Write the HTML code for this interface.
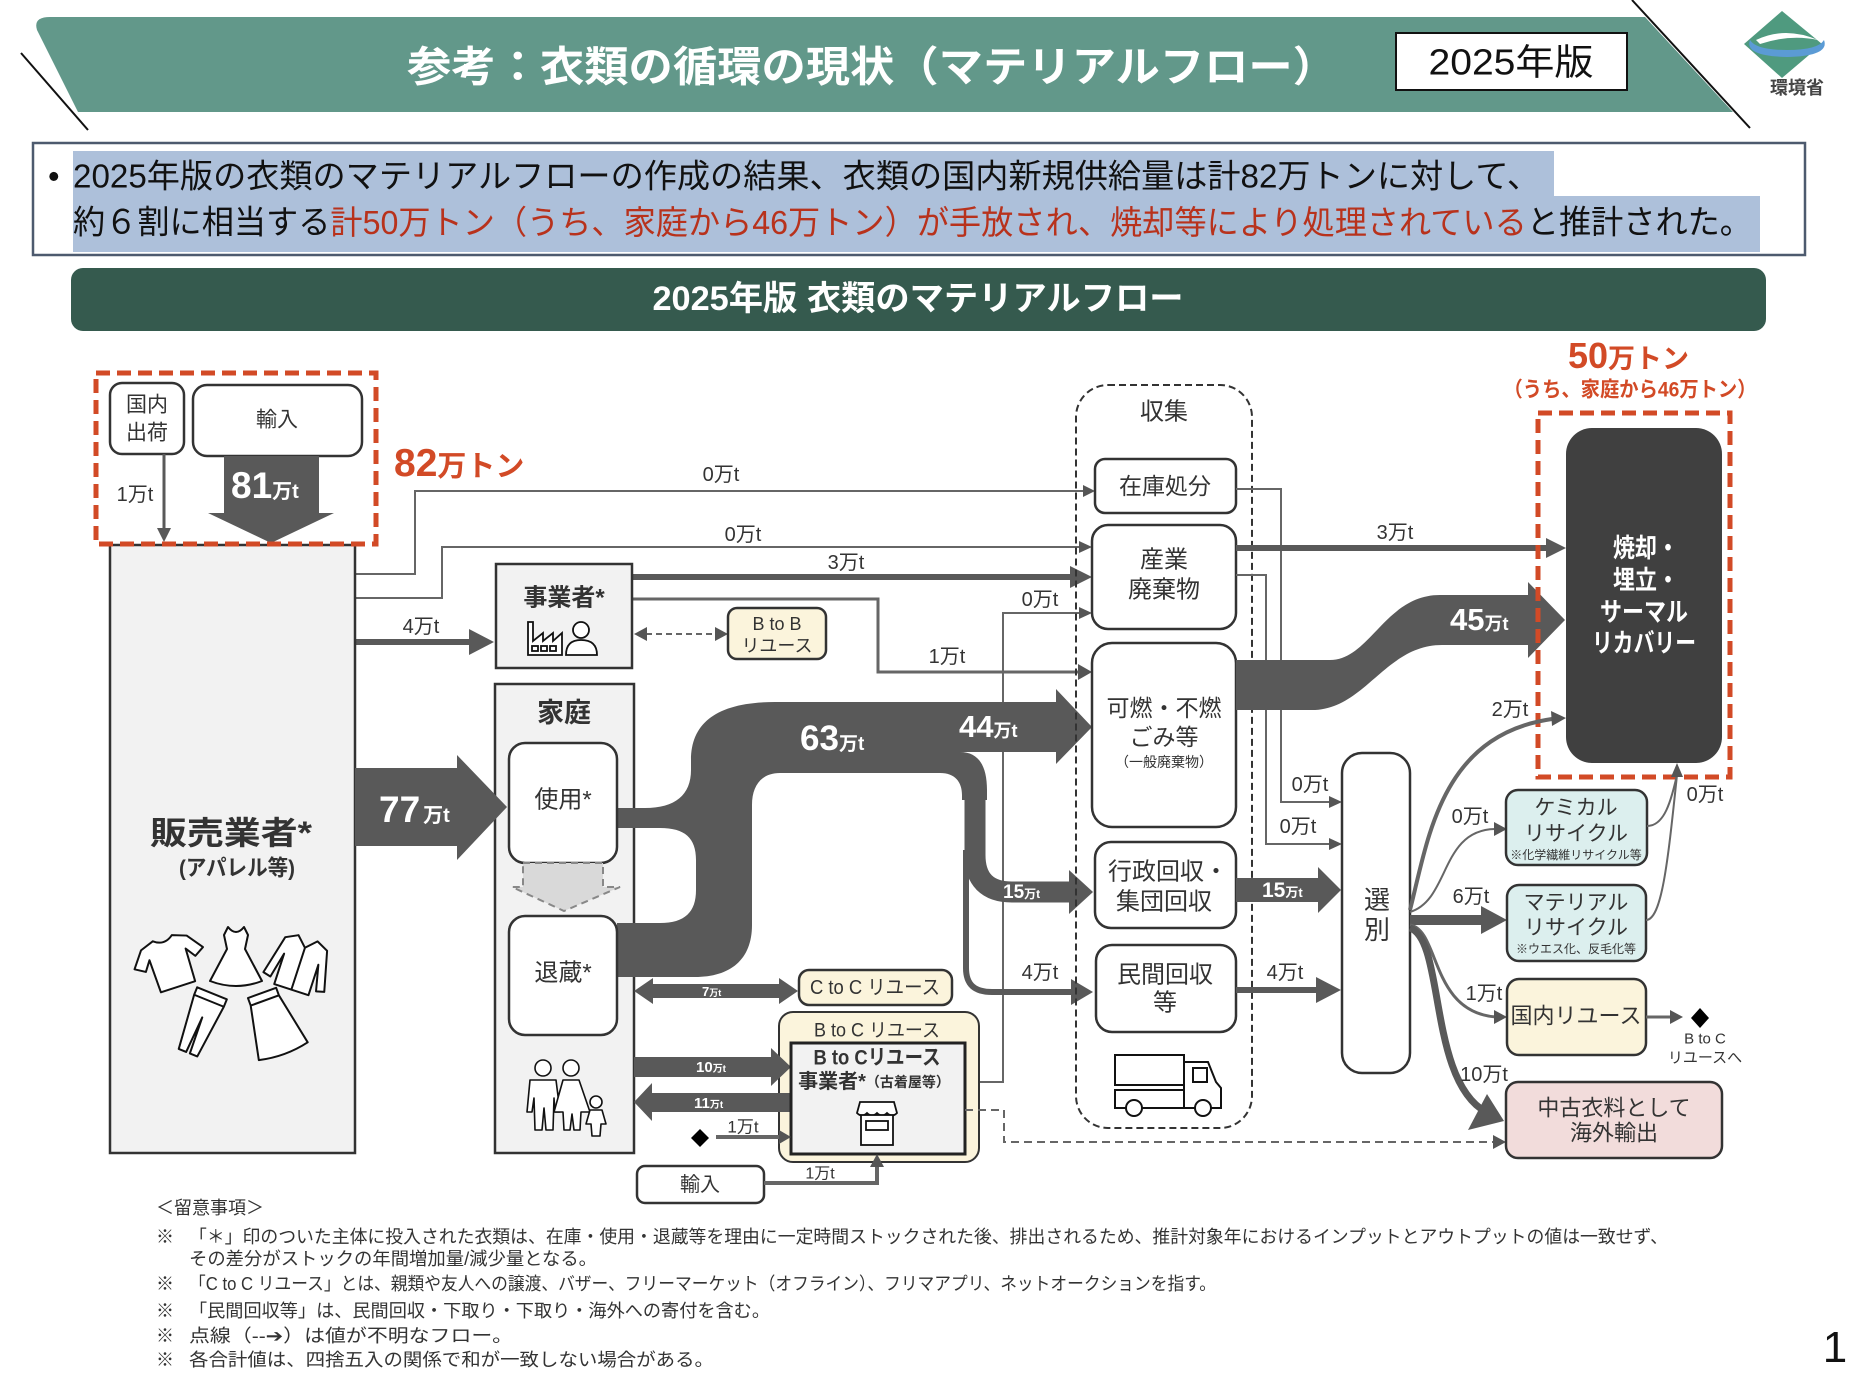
<!DOCTYPE html>
<html><head><meta charset="utf-8">
<style>
html,body{margin:0;padding:0;background:#fff;}
svg{display:block;}
text{font-family:"Liberation Sans","Noto Sans CJK JP",sans-serif;}
.l{font-size:20px;fill:#333;text-anchor:middle;dominant-baseline:central;}
.t{fill:#333;text-anchor:middle;dominant-baseline:central;}
.b{font-weight:bold;}
.box{fill:#fff;stroke:#333;stroke-width:2.5;}
.gbox{fill:#f2f2f2;stroke:#333;stroke-width:2.5;}
.c{fill:none;stroke:#666;stroke-width:2;}
.h{fill:#555;}
.n{font-size:18px;fill:#333;dominant-baseline:central;}
</style></head><body>
<svg xmlns="http://www.w3.org/2000/svg" width="1850" height="1378" viewBox="0 0 1850 1378">

<!-- Title band -->
<path d="M50 17 L1645 17 L1733 112 L78 112 L37 30 Q33 17 50 17 Z" fill="#62988a"/>
<line x1="21" y1="53" x2="88" y2="130" stroke="#111" stroke-width="2"/>
<line x1="1632" y1="0" x2="1750" y2="128" stroke="#111" stroke-width="2"/>
<text x="407" y="67" font-size="42" font-weight="bold" fill="#fff" dominant-baseline="central" textLength="930" lengthAdjust="spacingAndGlyphs">参考：衣類の循環の現状（マテリアルフロー）</text>
<rect x="1396" y="33" width="231" height="57" fill="#fff" stroke="#111" stroke-width="2"/>
<text x="1511" y="62" font-size="36" fill="#111" text-anchor="middle" dominant-baseline="central" textLength="165" lengthAdjust="spacingAndGlyphs">2025年版</text>

<!-- Logo -->
<polygon points="1782,11 1822,44 1782,78 1744,44" fill="#4f9a7f"/>
<path d="M1756 40 Q1785 26 1818 40 Q1790 34 1760 44 Z" fill="#fff"/>
<path d="M1750 40 Q1744 56 1787 57 Q1830 56 1824 40 Q1818 50 1787 50 Q1756 50 1750 40 Z" fill="#5b9bd5"/>
<text x="1797" y="88" font-size="18" font-weight="bold" fill="#444" text-anchor="middle" dominant-baseline="central">環境省</text>

<!-- Summary box -->
<rect x="33" y="143" width="1772" height="112" fill="#fff" stroke="#4d5a6e" stroke-width="2.5"/>
<rect x="73" y="151" width="1481" height="45" fill="#adc0da"/>
<rect x="73" y="196" width="1687" height="56" fill="#adc0da"/>
<text x="48" y="176" font-size="33" fill="#111" dominant-baseline="central">•</text>
<text x="73" y="176" font-size="33" fill="#111" dominant-baseline="central" textLength="1467" lengthAdjust="spacingAndGlyphs">2025年版の衣類のマテリアルフローの作成の結果、衣類の国内新規供給量は計82万トンに対して、</text>
<text x="73" y="222" font-size="33" fill="#111" dominant-baseline="central" textLength="1679" lengthAdjust="spacingAndGlyphs">約６割に相当する<tspan fill="#b8321c">計50万トン（うち、家庭から46万トン）が手放され、焼却等により処理されている</tspan>と推計された。</text>

<!-- Section header -->
<rect x="71" y="268" width="1695" height="63" rx="12" fill="#355a4e"/>
<text x="918" y="299" font-size="34" font-weight="bold" fill="#fff" text-anchor="middle" dominant-baseline="central" textLength="531" lengthAdjust="spacingAndGlyphs">2025年版 衣類のマテリアルフロー</text>

<!-- thin connectors from 販売業者 -->
<polyline points="355,574 415,574 415,491 1084,491" class="c"/>
<polygon points="1083,485 1095,491 1083,497" class="h"/>
<text class="l" x="721" y="475">0万t</text>
<polyline points="355,598 442,598 442,547 1080,547" class="c"/>
<polygon points="1079,541 1092,547 1079,553" class="h"/>
<text class="l" x="743" y="535">0万t</text>

<!-- 事業者 outputs -->
<line x1="632" y1="577" x2="1072" y2="577" stroke="#595959" stroke-width="6"/>
<polygon points="1070,566 1092,577 1070,588" fill="#595959"/>
<text class="l" x="846" y="563">3万t</text>
<polyline points="632,599 878,599 878,672 1080,672" fill="none" stroke="#666" stroke-width="3"/>
<polygon points="1078,664 1092,672 1078,680" class="h"/>
<text class="l" x="947" y="657">1万t</text>
<polyline points="965,1082 1003,1082 1003,613 1080,613" class="c"/>
<polygon points="1079,607 1092,613 1079,619" class="h"/>
<text class="l" x="1040" y="600">0万t</text>

<!-- B to B dashed double arrow -->
<line x1="646" y1="634" x2="714" y2="634" stroke="#666" stroke-width="2" stroke-dasharray="6 4"/>
<polygon points="634,634 647,627 647,641" class="h"/>
<polygon points="728,634 715,627 715,641" class="h"/>
<rect x="728" y="608" width="98" height="51" rx="9" fill="#fbf4dc" stroke="#333" stroke-width="2.5"/>
<text class="t" x="777" y="624" font-size="18">B to B</text>
<text class="t" x="777" y="646" font-size="18">リユース</text>

<!-- 4万t 販売→事業者 -->
<line x1="355" y1="642" x2="472" y2="642" stroke="#595959" stroke-width="6"/>
<polygon points="469,629 494,642 469,655" fill="#595959"/>
<text class="l" x="421" y="627">4万t</text>

<!-- 販売業者 box -->
<rect x="110" y="545" width="245" height="608" class="gbox"/>
<text class="t b" x="231" y="833" font-size="32" fill="#333" textLength="162" lengthAdjust="spacingAndGlyphs">販売業者*</text>
<text class="t b" x="237" y="868" font-size="22" textLength="116" lengthAdjust="spacingAndGlyphs">(アパレル等)</text>
<g fill="#fff" stroke="#111" stroke-width="2" stroke-linejoin="round">
  <path transform="translate(170,962) rotate(-18)" d="M-10,-25 L-24,-20 L-36,-4 L-26,2 L-19,-8 L-18,26 L18,26 L19,-8 L26,2 L36,-4 L24,-20 L10,-25 Q0,-17 -10,-25 Z"/>
  <path transform="translate(236,957)" d="M-8,-30 L-12,-22 L-9,-8 L-26,24 Q0,34 26,24 L9,-8 L12,-22 L8,-30 Q0,-20 -8,-30 Z"/>
  <path transform="translate(300,963) rotate(18)" d="M-10,-26 L-22,-20 L-32,20 L-24,22 L-18,-4 L-18,28 L18,28 L18,-4 L24,22 L32,20 L22,-20 L10,-26 L0,-16 Z M0,-16 L0,28"/>
  <path transform="translate(200,1023) rotate(22)" d="M-16,-32 L16,-32 L16,-24 L10,32 L2,32 L0,-6 L-2,32 L-10,32 L-16,-24 Z M-16,-24 L16,-24"/>
  <path transform="translate(273,1023) rotate(-20)" d="M-15,-32 L15,-32 L15,-24 L26,30 Q0,36 -26,30 L-15,-24 Z M-15,-24 L15,-24"/>
</g>

<!-- 82 box -->
<rect x="110" y="383" width="74" height="71" rx="12" class="box"/>
<text class="t" x="147" y="405" font-size="21">国内</text>
<text class="t" x="147" y="433" font-size="21">出荷</text>
<rect x="193" y="385" width="169" height="71" rx="14" class="box"/>
<text class="t" x="277" y="420" font-size="21">輸入</text>
<line x1="164" y1="454" x2="164" y2="530" stroke="#595959" stroke-width="3"/>
<polygon points="157,528 164,542 171,528" fill="#595959"/>
<text class="l" x="135" y="495">1万t</text>
<polygon points="224,456 319,456 319,513 334,513 271,543 208,513 224,513" fill="#595959"/>
<text x="231" y="498" font-size="37" font-weight="bold" fill="#fff">81<tspan font-size="20">万t</tspan></text>
<rect x="96" y="373" width="280" height="171" fill="none" stroke="#d24a26" stroke-width="5" stroke-dasharray="14 7"/>
<text x="394" y="476" font-size="39" font-weight="bold" fill="#d24a26">82<tspan font-size="29">万トン</tspan></text>

<!-- 事業者 box -->
<rect x="496" y="564" width="136" height="104" class="gbox"/>
<text class="t b" x="564" y="598" font-size="24">事業者*</text>
<g fill="#fff" stroke="#111" stroke-width="1.8">
  <path d="M528 655 L528 622 L533 622 L533 641 L543 633 L543 641 L553 633 L553 641 L562 633 L562 655 Z"/>
  <rect x="532" y="646" width="6" height="5"/><rect x="541" y="646" width="6" height="5"/><rect x="550" y="646" width="6" height="5"/>
  <circle cx="581" cy="630" r="8"/>
  <path d="M566 655 Q566 640 581 640 Q597 640 597 655 Z"/>
</g>

<!-- 家庭 box -->
<rect x="495" y="684" width="139" height="469" class="gbox"/>
<text class="t b" x="564" y="713" font-size="27">家庭</text>

<!-- 77 arrow -->
<polygon points="355,768 457,768 457,755 507,807 457,860 457,846 355,846" fill="#595959"/>
<text x="379" y="822" font-size="37" font-weight="bold" fill="#fff">77<tspan font-size="20" dx="3">万t</tspan></text>

<!-- big band 63/44 -->
<path d="M617 808 L645 808 C675 808 691 795 691 770 L691 760 C691 722 718 702 775 702 L1056 702 L1056 689 L1092 727 L1056 764 L1056 752 L960 752 C978 752 987 765 987 790 L987 800 L962 800 L962 795 C962 782 955 773 940 773 L780 773 C762 773 752 785 752 805 L752 925 C752 960 730 977 695 977 L617 977 L617 923 L660 923 C685 923 696 912 696 890 L696 860 C696 838 685 828 660 828 L617 828 Z" fill="#595959"/>
<path d="M975 796 L975 855 C975 880 988 892 1012 892 L1070 892" fill="none" stroke="#595959" stroke-width="21"/>
<polygon points="1069,870 1093,892 1069,914" fill="#595959"/>
<path d="M966 850 L966 968 C966 985 975 992 992 992 L1073 992" fill="none" stroke="#595959" stroke-width="6"/>
<polygon points="1071,979 1093,992 1071,1005" fill="#595959"/>
<text x="800" y="750" font-size="35" font-weight="bold" fill="#fff">63<tspan font-size="19">万t</tspan></text>
<text x="959" y="737" font-size="31" font-weight="bold" fill="#fff">44<tspan font-size="18">万t</tspan></text>
<text x="1003" y="898" font-size="19" font-weight="bold" fill="#fff">15<tspan font-size="12">万t</tspan></text>
<text class="l" x="1040" y="973">4万t</text>

<!-- 使用 / 退蔵 -->
<rect x="509" y="743" width="108" height="120" rx="16" class="box"/>
<text class="t" x="563" y="800" font-size="24">使用*</text>
<rect x="509" y="916" width="108" height="119" rx="16" class="box"/>
<text class="t" x="563" y="973" font-size="24">退蔵*</text>
<polygon points="523,863 603,863 603,887 620,887 564,911 512,887 523,887" fill="#d9d9d9" stroke="#888" stroke-width="2" stroke-dasharray="7 5"/>
<g fill="#fff" stroke="#111" stroke-width="1.6" stroke-linejoin="round">
  <circle cx="543" cy="1068" r="8"/>
  <path d="M530 1080 L556 1080 L560 1112 L555 1112 L554 1098 L553 1130 L546 1130 L544 1108 L542 1130 L535 1130 L534 1098 L532 1112 L527 1112 Z"/>
  <circle cx="571" cy="1068" r="8"/>
  <path d="M563 1080 L579 1080 L590 1112 L581 1112 L580 1130 L574 1130 L572 1114 L570 1130 L564 1130 L563 1112 L554 1112 Z"/>
  <circle cx="596" cy="1102" r="6"/>
  <path d="M590 1110 L602 1110 L606 1124 L601 1124 L600 1136 L592 1136 L591 1124 L586 1124 Z"/>
</g>

<!-- 7万t C to C -->
<polygon points="634,991 653,978 653,984 779,984 779,978 798,991 779,1004 779,998 653,998 653,1004" fill="#595959"/>
<text x="702" y="996" font-size="13" font-weight="bold" fill="#fff">7<tspan font-size="9">万t</tspan></text>
<rect x="799" y="970" width="153" height="35" rx="10" fill="#fbf4dc" stroke="#333" stroke-width="2.5"/>
<text class="t" x="875" y="988" font-size="20" textLength="130" lengthAdjust="spacingAndGlyphs">C to C リユース</text>

<!-- B to C outer -->
<rect x="779" y="1012" width="200" height="150" rx="14" fill="#fbf4dc" stroke="#333" stroke-width="2"/>
<text class="t" x="877" y="1031" font-size="19" textLength="126" lengthAdjust="spacingAndGlyphs">B to C リユース</text>
<polygon points="634,1057 771,1057 771,1048 791,1067 771,1086 771,1077 634,1077" fill="#595959"/>
<text x="696" y="1072" font-size="15" font-weight="bold" fill="#fff">10<tspan font-size="10">万t</tspan></text>
<polygon points="791,1093 652,1093 652,1083 634,1102 652,1121 652,1112 791,1112" fill="#595959"/>
<text x="694" y="1108" font-size="15" font-weight="bold" fill="#fff">11<tspan font-size="10">万t</tspan></text>
<rect x="791" y="1043" width="174" height="111" fill="#f2f2f2" stroke="#222" stroke-width="3"/>
<text class="t b" x="877" y="1058" font-size="21" textLength="127" lengthAdjust="spacingAndGlyphs">B to Cリユース</text>
<text class="t b" x="874" y="1082" font-size="20">事業者*<tspan font-size="14">（古着屋等）</tspan></text>
<g fill="#fff" stroke="#111" stroke-width="1.8">
  <path d="M857 1113 L860 1102 L894 1102 L897 1113 Q892 1118 887 1113 Q882 1118 877 1113 Q872 1118 867 1113 Q862 1118 857 1113 Z"/>
  <rect x="861" y="1115" width="32" height="30"/>
  <rect x="866" y="1121" width="22" height="9"/>
</g>
<polygon points="700,1129 709,1138 700,1147 691,1138" fill="#000"/>
<line x1="716" y1="1137" x2="781" y2="1137" stroke="#666" stroke-width="4"/>
<polygon points="779,1130 791,1137 779,1144" class="h"/>
<text class="t" x="743" y="1127" font-size="17">1万t</text>
<rect x="637" y="1166" width="127" height="37" rx="8" class="box"/>
<text class="t" x="700" y="1185" font-size="20">輸入</text>
<polyline points="764,1183 877,1183 877,1166" fill="none" stroke="#666" stroke-width="4"/>
<polygon points="870,1167 877,1154 884,1167" class="h"/>
<text class="t" x="820" y="1174" font-size="16">1万t</text>
<polyline points="965,1110 1004,1110 1004,1142 1494,1142" fill="none" stroke="#666" stroke-width="2" stroke-dasharray="8 5"/>
<polygon points="1493,1135 1506,1142 1493,1149" class="h"/>

<!-- 収集 -->
<rect x="1076" y="385" width="176" height="743" rx="32" fill="none" stroke="#333" stroke-width="2" stroke-dasharray="7 4"/>
<text class="t" x="1164" y="412" font-size="24">収集</text>
<rect x="1095" y="459" width="141" height="54" rx="10" class="box"/>
<text class="t" x="1165" y="486" font-size="23">在庫処分</text>
<rect x="1092" y="525" width="144" height="104" rx="16" class="box"/>
<text class="t" x="1164" y="560" font-size="24">産業</text>
<text class="t" x="1164" y="590" font-size="24">廃棄物</text>
<rect x="1092" y="643" width="144" height="184" rx="20" class="box"/>
<text class="t" x="1164" y="708" font-size="23">可燃・不燃</text>
<text class="t" x="1164" y="737" font-size="23">ごみ等</text>
<text class="t" x="1164" y="762" font-size="14">（一般廃棄物）</text>
<rect x="1095" y="842" width="141" height="86" rx="16" class="box"/>
<text class="t" x="1168" y="872" font-size="24">行政回収・</text>
<text class="t" x="1164" y="902" font-size="24">集団回収</text>
<rect x="1096" y="945" width="140" height="87" rx="16" class="box"/>
<text class="t" x="1165" y="975" font-size="24">民間回収</text>
<text class="t" x="1165" y="1003" font-size="24">等</text>
<g fill="#fff" stroke="#111" stroke-width="2">
  <rect x="1115" y="1055" width="69" height="30"/>
  <rect x="1115" y="1090" width="69" height="18"/>
  <path d="M1184 1062 L1208 1062 L1216 1082 L1221 1088 L1221 1108 L1184 1108 Z"/>
  <rect x="1193" y="1068" width="14" height="14"/>
  <circle cx="1134" cy="1108" r="8"/>
  <circle cx="1203" cy="1108" r="8"/>
</g>

<!-- to 選別 -->
<polyline points="1236,489 1281,489 1281,802 1330,802" class="c"/>
<polygon points="1329,796 1342,802 1329,808" class="h"/>
<text class="l" x="1310" y="785">0万t</text>
<polyline points="1236,575 1266,575 1266,844 1330,844" class="c"/>
<polygon points="1329,838 1342,844 1329,850" class="h"/>
<text class="l" x="1298" y="827">0万t</text>
<polygon points="1236,878 1318,878 1318,867 1341,890 1318,913 1318,902 1236,902" fill="#595959"/>
<text x="1262" y="897" font-size="21" font-weight="bold" fill="#fff">15<tspan font-size="13">万t</tspan></text>
<line x1="1236" y1="990" x2="1318" y2="990" stroke="#595959" stroke-width="6"/>
<polygon points="1316,977 1341,990 1316,1003" fill="#595959"/>
<text class="l" x="1285" y="973">4万t</text>
<rect x="1342" y="753" width="68" height="320" rx="20" class="box"/>
<text class="t" x="1377" y="900" font-size="26">選</text>
<text class="t" x="1377" y="930" font-size="26">別</text>

<!-- to 焼却 -->
<line x1="1236" y1="548" x2="1548" y2="548" stroke="#595959" stroke-width="6"/>
<polygon points="1546,538 1566,548 1546,558" fill="#595959"/>
<text class="l" x="1395" y="533">3万t</text>
<path d="M1236 660 L1330 660 C1370 660 1385 595 1440 595 L1528 595 L1528 582 L1565 620 L1528 658 L1528 645 L1442 645 C1385 645 1365 710 1312 710 L1236 710 Z" fill="#595959"/>
<text x="1450" y="630" font-size="31" font-weight="bold" fill="#fff">45<tspan font-size="18">万t</tspan></text>
<rect x="1566" y="428" width="156" height="335" rx="26" fill="#404040"/>
<g font-size="26" font-weight="bold" fill="#fff" text-anchor="middle" dominant-baseline="central">
  <text x="1646" y="548" textLength="66" lengthAdjust="spacingAndGlyphs">焼却・</text>
  <text x="1646" y="580" textLength="66" lengthAdjust="spacingAndGlyphs">埋立・</text>
  <text x="1644" y="612" textLength="88" lengthAdjust="spacingAndGlyphs">サーマル</text>
  <text x="1644" y="643" textLength="104" lengthAdjust="spacingAndGlyphs">リカバリー</text>
</g>
<rect x="1538" y="413" width="192" height="364" fill="none" stroke="#d24a26" stroke-width="5" stroke-dasharray="14 7"/>
<text x="1568" y="368" font-size="36" font-weight="bold" fill="#d24a26">50<tspan font-size="27">万トン</tspan></text>
<text x="1630" y="390" font-size="21" font-weight="bold" fill="#d24a26" text-anchor="middle" dominant-baseline="central" textLength="253" lengthAdjust="spacingAndGlyphs">（うち、家庭から46万トン）</text>

<!-- 選別 outputs -->
<path d="M1410 910 C1428 840 1440 735 1552 719" fill="none" stroke="#666" stroke-width="4"/>
<polygon points="1551,711 1566,718 1552,726" class="h"/>
<text class="l" x="1510" y="710">2万t</text>
<path d="M1410 912 C1450 900 1440 830 1495 829" fill="none" stroke="#666" stroke-width="2"/>
<polygon points="1494,822 1507,829 1494,836" class="h"/>
<text class="l" x="1470" y="817">0万t</text>
<line x1="1410" y1="920" x2="1483" y2="920" stroke="#595959" stroke-width="10"/>
<polygon points="1481,906 1507,920 1481,934" fill="#595959"/>
<text class="l" x="1471" y="897">6万t</text>
<path d="M1410 925 C1440 930 1430 1012 1496 1017" fill="none" stroke="#666" stroke-width="3"/>
<polygon points="1494,1010 1507,1017 1494,1024" class="h"/>
<text class="l" x="1484" y="994">1万t</text>
<path d="M1410 928 C1445 940 1428 1080 1486 1112" fill="none" stroke="#595959" stroke-width="7"/>
<polygon points="1504,1121 1468,1130 1487,1094" fill="#595959"/>
<text class="l" x="1484" y="1075">10万t</text>

<rect x="1506" y="790" width="141" height="75" rx="12" fill="#dcefee" stroke="#333" stroke-width="2.5"/>
<text class="t" x="1576" y="808" font-size="21">ケミカル</text>
<text class="t" x="1576" y="834" font-size="21">リサイクル</text>
<text class="t" x="1576" y="855" font-size="12">※化学繊維リサイクル等</text>
<rect x="1507" y="885" width="139" height="76" rx="12" fill="#dcefee" stroke="#333" stroke-width="2.5"/>
<text class="t" x="1576" y="903" font-size="21">マテリアル</text>
<text class="t" x="1576" y="928" font-size="21">リサイクル</text>
<text class="t" x="1576" y="949" font-size="12">※ウエス化、反毛化等</text>
<rect x="1507" y="979" width="139" height="76" rx="12" fill="#fbf4dc" stroke="#333" stroke-width="2.5"/>
<text class="t" x="1576" y="1016" font-size="22">国内リユース</text>
<rect x="1506" y="1082" width="216" height="76" rx="12" fill="#f2dcdb" stroke="#333" stroke-width="2.5"/>
<text class="t" x="1614" y="1108" font-size="22">中古衣料として</text>
<text class="t" x="1614" y="1133" font-size="22">海外輸出</text>

<path d="M1647 826 C1665 826 1671 800 1677 775" class="c"/>
<path d="M1646 920 C1662 920 1668 860 1677 775" class="c"/>
<polygon points="1671,777 1677,763 1683,777" class="h"/>
<text class="l" x="1705" y="795">0万t</text>
<line x1="1646" y1="1017" x2="1672" y2="1017" stroke="#666" stroke-width="3"/>
<polygon points="1670,1010 1683,1017 1670,1024" class="h"/>
<polygon points="1700,1008 1709,1018 1700,1028 1691,1018" fill="#000"/>
<text class="t" x="1705" y="1039" font-size="15">B to C</text>
<text class="t" x="1705" y="1058" font-size="15">リユースへ</text>

<!-- Notes -->
<text class="n" x="156" y="1208">＜留意事項＞</text>
<text class="n" x="156" y="1237">※</text>
<text class="n" x="189" y="1237" textLength="1479" lengthAdjust="spacingAndGlyphs">「＊」印のついた主体に投入された衣類は、在庫・使用・退蔵等を理由に一定時間ストックされた後、排出されるため、推計対象年におけるインプットとアウトプットの値は一致せず、</text>
<text class="n" x="189" y="1259" textLength="408" lengthAdjust="spacingAndGlyphs">その差分がストックの年間増加量/減少量となる。</text>
<text class="n" x="156" y="1284">※</text>
<text class="n" x="189" y="1284" textLength="1027" lengthAdjust="spacingAndGlyphs">「C to C リユース」とは、親類や友人への譲渡、バザー、フリーマーケット（オフライン）、フリマアプリ、ネットオークションを指す。</text>
<text class="n" x="156" y="1311">※</text>
<text class="n" x="189" y="1311" textLength="581" lengthAdjust="spacingAndGlyphs">「民間回収等」は、民間回収・下取り・下取り・海外への寄付を含む。</text>
<text class="n" x="156" y="1336">※</text>
<text class="n" x="189" y="1336" textLength="324" lengthAdjust="spacingAndGlyphs">点線（‐‐➔）は値が不明なフロー。</text>
<text class="n" x="156" y="1360">※</text>
<text class="n" x="189" y="1360" textLength="525" lengthAdjust="spacingAndGlyphs">各合計値は、四捨五入の関係で和が一致しない場合がある。</text>

<text x="1835" y="1362" font-size="44" fill="#111" text-anchor="middle">1</text>
</svg>
</body></html>
